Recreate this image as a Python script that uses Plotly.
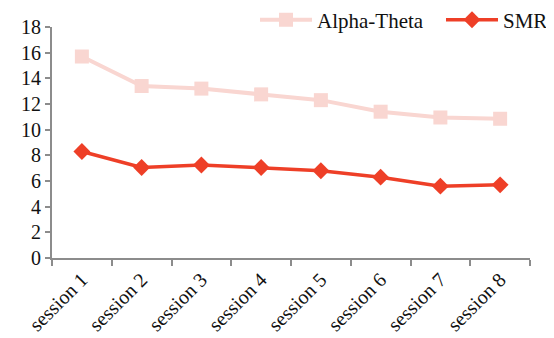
import plotly.graph_objects as go

sessions = ["session 1", "session 2", "session 3", "session 4",
            "session 5", "session 6", "session 7", "session 8"]
alpha_theta = [15.7, 13.4, 13.2, 12.75, 12.3, 11.4, 10.95, 10.85]
smr = [8.3, 7.05, 7.25, 7.05, 6.8, 6.3, 5.6, 5.7]

font_family = "'Liberation Serif', 'Times New Roman', 'DejaVu Serif', serif"
axis_color = "#8c8c8c"

fig = go.Figure()
fig.add_trace(go.Scatter(
    x=sessions, y=alpha_theta, name="Alpha-Theta", mode="lines+markers",
    line=dict(color="#F9D6D1", width=4),
    marker=dict(symbol="square", size=14, color="#F9D6D1"),
    legend="legend",
))
fig.add_trace(go.Scatter(
    x=sessions, y=smr, name="SMR", mode="lines+markers",
    line=dict(color="#EE3F27", width=3.5),
    marker=dict(symbol="diamond", size=13, color="#EE3F27"),
    legend="legend2",
))

legend_common = dict(orientation="h", xanchor="left", y=1.03, yanchor="middle",
                     font=dict(family=font_family, size=21, color="#111111"),
                     itemwidth=52, bgcolor="rgba(0,0,0,0)")

fig.update_layout(
    width=546, height=330,
    margin=dict(l=44, r=24, t=19, b=80, autoexpand=False),
    paper_bgcolor="white", plot_bgcolor="white",
    font=dict(family=font_family, size=20, color="#111111"),
    showlegend=True,
    legend=dict(x=0.4247, **legend_common),
    legend2=dict(x=0.8138, **legend_common),
    xaxis=dict(
        type="category", tickangle=-45, tickson="boundaries", automargin=False,
        showline=True, linecolor=axis_color, linewidth=2,
        ticks="outside", ticklen=6, tickcolor=axis_color, tickwidth=2,
        showgrid=False, zeroline=False, range=[-0.5, 7.5],
        tickfont=dict(family=font_family, size=20, color="#111111"),
    ),
    yaxis=dict(
        range=[0, 18], dtick=2, showline=True, linecolor=axis_color, linewidth=2,
        ticks="outside", ticklen=5, tickcolor=axis_color, tickwidth=2, automargin=False,
        showgrid=False, zeroline=False,
        tickfont=dict(family=font_family, size=20, color="#111111"),
    ),
)

fig.write_html("out.html")
